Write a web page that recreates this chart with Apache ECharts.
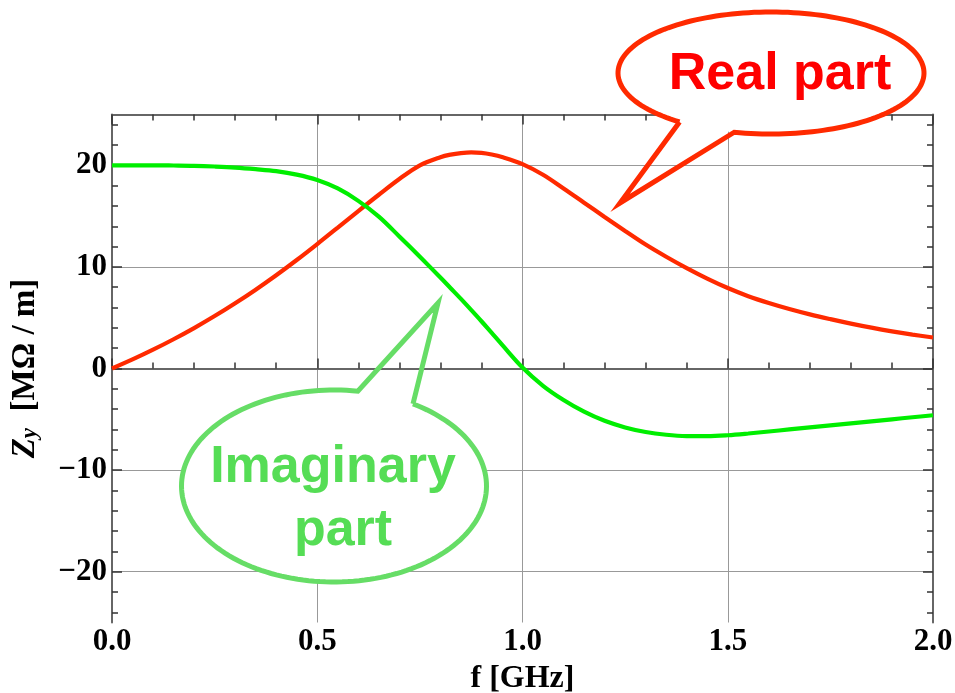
<!DOCTYPE html>
<html><head><meta charset="utf-8">
<script src="https://cdn.jsdelivr.net/npm/echarts@6/dist/echarts.min.js"></script>
<style>html,body{margin:0;padding:0;background:#fff}#c{width:955px;height:693px}</style>
</head><body><div id="c"></div>
<script>
// ---- data ----
const fGHz = [0,0.05,0.1,0.15,0.2,0.25,0.3,0.35,0.4,0.45,0.5,0.55,0.6,0.65,0.7,0.75,0.8,0.825,0.85,0.875,0.9,0.925,0.95,1.0,
  1.05,1.1,1.15,1.2,1.25,1.3,1.35,1.4,1.45,1.5,1.55,1.6,1.65,1.7,1.75,1.8,1.85,1.9,1.95,2.0];
const realPart = [0,0.89,1.85,2.88,3.98,5.16,6.42,7.76,9.18,10.68,12.25,13.87,15.5,17.1,18.65,20.0,20.8,21.05,21.2,21.27,21.22,21.06,20.82,20.12,
  19.07,17.72,16.32,14.92,13.54,12.2,11.0,9.88,8.85,7.92,7.12,6.45,5.86,5.33,4.86,4.42,4.02,3.66,3.34,3.05];
const imagPart = [20.0,20.0,20.0,19.98,19.95,19.88,19.78,19.62,19.42,19.08,18.55,17.72,16.5,14.95,13.0,11.0,8.95,7.9,6.85,5.76,4.65,3.5,2.35,0.1,
  -1.7,-3.1,-4.25,-5.15,-5.8,-6.25,-6.52,-6.65,-6.66,-6.57,-6.4,-6.2,-6.0,-5.8,-5.6,-5.4,-5.2,-5.0,-4.8,-4.6];
const xTickLabels = ['0.0','0.5','1.0','1.5','2.0'];
const yTickLabels = [-20,-10,0,10,20];
const yMin = -25, yMax = 25;

// scaffold category axis for y tick placement (one slot per unit)
const ySlots = [];
for (let v = yMin; v <= yMax; v++) ySlots.push(String(v));

const SERIF = '"Liberation Serif","Times New Roman",serif';
const SANS = '"Liberation Sans",Arial,sans-serif';
const isMajor = (i, v) => yTickLabels.indexOf(Number(v)) >= 0;
const isMinor = (i, v) => Number(v) % 2 === 0 && !isMajor(i, v);
const frameLine = {show: true, lineStyle: {color: '#666', width: 2}};
const tickStyle = {color: '#333', width: 1.5};
const LBL = 31;

function bubble(cx, cy, rx, ry, a0, a1, tip) {
  const pts = [];
  const n = 160;
  for (let k = 0; k <= n; k++) {
    const t = (a0 + (a1 - a0) * k / n) * Math.PI / 180;
    pts.push([cx + rx * Math.cos(t), cy + ry * Math.sin(t)]);
  }
  const fill = [];
  for (let k = 0; k < 180; k++) {
    const t = k * 2 * Math.PI / 180;
    fill.push([cx + rx * Math.cos(t), cy + ry * Math.sin(t)]);
  }
  return {fill, outline: pts.concat([tip, pts[0]])};
}
const redB = bubble(771, 73, 153, 61, 126.7, 463.9, [620, 203]);
const grnB = bubble(334, 486, 152.5, 96, -58.8, 279, [438, 303]);

const chart = echarts.init(document.getElementById('c'));
const yCatBase = {type: 'category', data: ySlots, boundaryGap: false,
  axisLine: {show: false}, axisTick: {show: false}, axisLabel: {show: false}, splitLine: {show: false}};

chart.setOption({
  animation: false,
  backgroundColor: '#fff',
  grid: {left: 112, right: 22, top: 114.5, bottom: 70.5, containLabel: false, outerBoundsMode: 'none'},
  xAxis: [
    {type: 'value', min: 0, max: 2, interval: 0.5, position: 'bottom',
     axisLine: frameLine,
     axisTick: {show: true, inside: true, length: 10, lineStyle: tickStyle},
     minorTick: {show: true, splitNumber: 5, length: 6, lineStyle: tickStyle},
     axisLabel: {formatter: v => xTickLabels[Math.round(v / 0.5)], fontFamily: SERIF, fontWeight: 'bold', fontSize: LBL, color: '#000', margin: 4},
     splitLine: {show: true, lineStyle: {color: '#999', width: 1}},
     name: 'f [GHz]', nameLocation: 'middle', nameGap: 40,
     nameTextStyle: {fontFamily: SERIF, fontWeight: 'bold', fontSize: 32, color: '#000'}},
    {type: 'value', min: 0, max: 2, interval: 0.5, position: 'top',
     axisLine: frameLine,
     axisTick: {show: true, inside: true, length: 10, lineStyle: tickStyle},
     minorTick: {show: true, splitNumber: 5, length: 6, lineStyle: tickStyle},
     axisLabel: {show: false}, splitLine: {show: false}}
  ],
  yAxis: [
    {type: 'value', min: yMin, max: yMax, show: false},
    Object.assign({}, yCatBase, {position: 'left',
      axisLine: frameLine,
      axisTick: {show: true, inside: true, length: 10, interval: isMajor, lineStyle: tickStyle},
      axisLabel: {show: true, interval: isMajor, margin: 5,
        formatter: v => (Number(v) < 0 ? '\u2212' + Math.abs(Number(v)) : String(Number(v))),
        fontFamily: SERIF, fontWeight: 'bold', fontSize: LBL, color: '#000'},
      splitLine: {show: true, interval: (i, v) => isMajor(i, v) && Number(v) !== 0, lineStyle: {color: '#999', width: 1}},
      name: '{z|Z}{s|y}{u|  [M\u03a9 / m]}', nameLocation: 'middle', nameGap: 70, nameRotate: 90,
      nameTextStyle: {rich: {
        z: {fontFamily: SERIF, fontWeight: 'bold', fontStyle: 'italic', fontSize: 33, color: '#000', lineHeight: 33},
        s: {fontFamily: SERIF, fontWeight: 'bold', fontStyle: 'italic', fontSize: 23, color: '#000', verticalAlign: 'bottom', lineHeight: 24, padding: [11, 0, 0, 0]},
        u: {fontFamily: SERIF, fontWeight: 'bold', fontSize: 33, color: '#000', lineHeight: 33}
      }}}),
    Object.assign({}, yCatBase, {position: 'left',
      axisTick: {show: true, inside: true, length: 6, interval: isMinor, lineStyle: tickStyle}}),
    Object.assign({}, yCatBase, {position: 'left',
      splitLine: {show: true, interval: (i, v) => Number(v) === 0, lineStyle: {color: '#333', width: 1.5}}}),
    Object.assign({}, yCatBase, {position: 'right',
      axisLine: frameLine,
      axisTick: {show: true, inside: true, length: 10, interval: isMajor, lineStyle: tickStyle}}),
    Object.assign({}, yCatBase, {position: 'right',
      axisTick: {show: true, inside: true, length: 6, interval: isMinor, lineStyle: tickStyle}})
  ],
  series: [
    {type: 'line', name: 'Real part', xAxisIndex: 0, yAxisIndex: 0, showSymbol: false, smooth: 0.35,
     data: fGHz.map((f, i) => [f, realPart[i]]), lineStyle: {color: '#ff2a00', width: 4.2}, z: 5},
    {type: 'line', name: 'Imaginary part', xAxisIndex: 0, yAxisIndex: 0, showSymbol: false, smooth: 0.35,
     data: fGHz.map((f, i) => [f, imagPart[i]]), lineStyle: {color: '#00ee00', width: 4.2}, z: 6}
  ],
  graphic: [
    {type: 'polygon', z: 100, shape: {points: redB.fill}, style: {fill: '#fff', stroke: null}},
    {type: 'polyline', z: 101, shape: {points: redB.outline}, style: {stroke: '#ff2a00', lineWidth: 5, fill: null, lineJoin: 'miter', miterLimit: 20}},
    {type: 'text', z: 102, x: 780, y: 75, style: {text: 'Real part', font: 'bold 52px ' + SANS, fill: '#ff0000',
      textAlign: 'center', textVerticalAlign: 'middle', align: 'center', verticalAlign: 'middle'}},
    {type: 'polygon', z: 100, shape: {points: grnB.fill}, style: {fill: '#fff', stroke: null}},
    {type: 'polyline', z: 101, shape: {points: grnB.outline}, style: {stroke: '#66dd66', lineWidth: 5, fill: null, lineJoin: 'miter', miterLimit: 20}},
    {type: 'text', z: 102, x: 333, y: 468, style: {text: 'Imaginary', font: 'bold 52px ' + SANS, fill: '#55dd55',
      textAlign: 'center', textVerticalAlign: 'middle', align: 'center', verticalAlign: 'middle'}},
    {type: 'text', z: 102, x: 343, y: 531, style: {text: 'part', font: 'bold 52px ' + SANS, fill: '#55dd55',
      textAlign: 'center', textVerticalAlign: 'middle', align: 'center', verticalAlign: 'middle'}}
  ]
});
</script>
</body></html>
